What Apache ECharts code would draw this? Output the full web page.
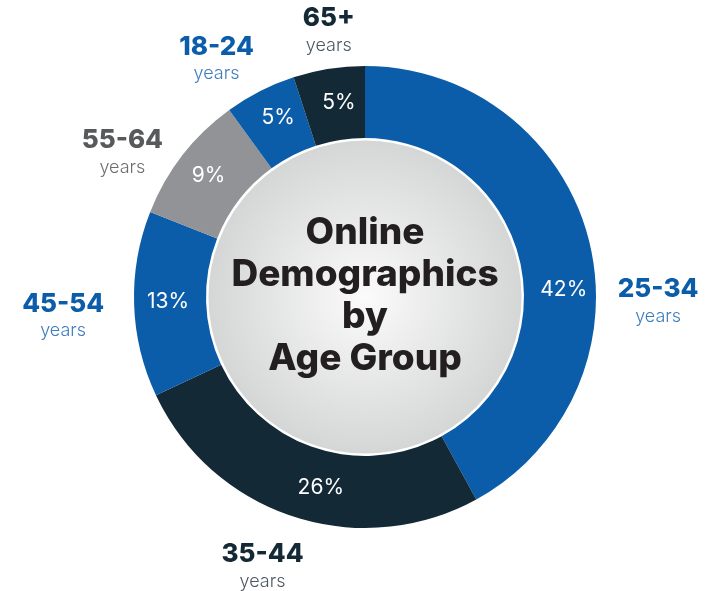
<!DOCTYPE html>
<html>
<head>
<meta charset="utf-8">
<script src="https://cdn.jsdelivr.net/npm/echarts@6/dist/echarts.min.js"></script>
<style>
html,body{margin:0;padding:0;background:#fff}
#chart{width:716px;height:591px}
</style>
</head>
<body>
<div id="chart"></div>
<script>
// data, clockwise from 12 o'clock
var ageGroups = ['25-34', '35-44', '45-54', '55-64', '18-24', '65+'];
var shares = [42, 26, 13, 9, 5, 5];
var chartTitle = ['Online', 'Demographics', 'by', 'Age Group'];

var BLUE = '#0b5ca9', DARK = '#132936', GREY = '#929396';
var sliceColors = [BLUE, DARK, BLUE, GREY, BLUE, DARK];
var headColors = [BLUE, DARK, BLUE, '#58595b', BLUE, DARK];
var yearsColors = ['#3d7cbd', '#4b5862', '#3d7cbd', '#6d6e71', '#3d7cbd', '#4b5862'];
// hand placed labels in the original, small nudges from the slice middle
var pctNudge = [[7, 42], [17, 2], [1, -2], [0, 0], [3, -3], [5, 1]];
var outNudge = [[19, 76], [-15, 1], [-19, 11], [-19, 30], [-20, 15], [8, 14]];

var FONT = 'Inter';
var CENTER = [365, 297];

var ringData = ageGroups.map(function (g, i) {
	return {
		name: g, value: shares[i],
		itemStyle: {color: sliceColors[i]},
		label: {offset: pctNudge[i]}
	};
});

var outerData = ageGroups.map(function (g, i) {
	return {
		name: g, value: shares[i],
		label: {
			offset: outNudge[i],
			rich: {
				h: {fontFamily: FONT, fontSize: 26, fontWeight: 800, color: headColors[i], lineHeight: 28, align: 'center'},
				y: {fontFamily: FONT, fontSize: 18, fontWeight: 300, color: yearsColors[i], lineHeight: 26, align: 'center'}
			}
		}
	};
});

var chart = echarts.init(document.getElementById('chart'), null, {renderer: 'canvas'});
chart.setOption({
	backgroundColor: '#ffffff',
	animation: false,
	series: [
		{
			// grey disc in the middle with the title
			type: 'pie', silent: true, center: CENTER, radius: [0, 158],
			emphasis: {disabled: true},
			itemStyle: {
				borderColor: '#ffffff', borderWidth: 3,
				color: {
					type: 'radial', x: 0.5, y: 0.5, r: 0.5,
					colorStops: [{offset: 0, color: '#fbfbfb'}, {offset: 1, color: '#d4d5d5'}]
				}
			},
			label: {
				show: true, position: 'center',
				formatter: chartTitle.join('\n'),
				fontFamily: FONT, fontSize: 37, fontWeight: 800, color: '#231f20',
				lineHeight: 42, align: 'center', offset: [0, -1]
			},
			labelLine: {show: false},
			data: [{value: 1, name: 'title'}]
		},
		{
			type: 'pie', silent: true, center: CENTER, radius: [159, 231],
			startAngle: 90, clockwise: true,
			emphasis: {disabled: true},
			label: {
				show: true, position: 'inside',
				formatter: '{c}%',
				fontFamily: FONT, fontSize: 21, fontWeight: 400, color: '#ffffff'
			},
			labelLine: {show: false},
			data: ringData
		},
		{
			// invisible ring that only carries the outside captions
			type: 'pie', silent: true, center: CENTER, radius: [262, 298],
			startAngle: 90, clockwise: true,
			emphasis: {disabled: true},
			itemStyle: {color: 'rgba(0,0,0,0)'},
			label: {
				show: true, position: 'inside',
				formatter: '{h|{b}}\n{y|years}'
			},
			labelLine: {show: false},
			data: outerData
		}
	]
});
</script>
</body>
</html>
